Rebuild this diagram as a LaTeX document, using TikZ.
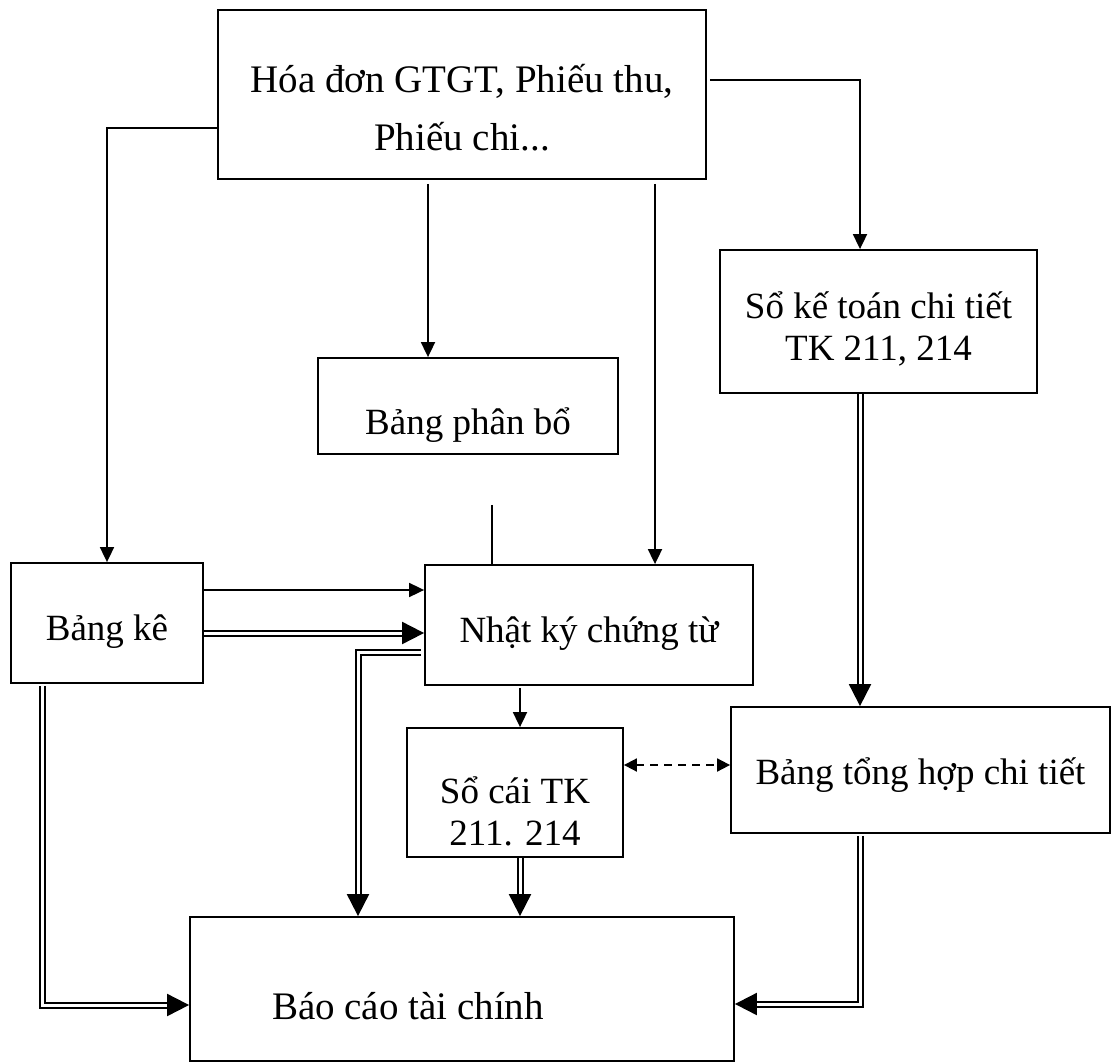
\documentclass[tikz,border=0pt]{standalone}
\usepackage{fontspec}
\setmainfont{Liberation Serif}
\usetikzlibrary{arrows.meta,calc}

\tikzset{
  box/.style={draw, line width=0.9pt, inner sep=0pt},
  lbl/.style={align=center, inner sep=0pt, font=\fontsize{18.5}{21}\selectfont},
  biglbl/.style={lbl, font=\fontsize{19.5}{22}\selectfont},
  sarr/.style={line width=0.9pt, -{Triangle[length=7.5pt,width=7pt]}},
  darr/.style={double, double distance=1.5pt, line width=1pt, -{Triangle[length=11pt,width=11pt]}},
  dashboth/.style={line width=0.9pt, dash pattern=on 4pt off 3pt, {Triangle[length=6.5pt,width=6.5pt]}-{Triangle[length=6.5pt,width=6.5pt]}},
}

\begin{document}
\begin{tikzpicture}[x=0.5pt, y=-0.5pt]
\useasboundingbox (0,0) rectangle (1112,1063);

% Boxes
\node[box, minimum width=244pt, minimum height=84.5pt] (hoadon) at (462,94.5) {};
\node[box, minimum width=158.5pt, minimum height=71.5pt] (chitiet) at (878.5,321.5) {};
\node[box, minimum width=150pt, minimum height=48pt] (phanbo) at (468,406) {};
\node[box, minimum width=96pt, minimum height=60pt] (bangke) at (107,623) {};
\node[box, minimum width=164pt, minimum height=60pt] (nhatky) at (589,625) {};
\node[box, minimum width=108pt, minimum height=64.5pt] (socai) at (515,792.5) {};
\node[box, minimum width=189.5pt, minimum height=63pt] (tonghop) at (920.5,770) {};
\node[box, minimum width=272pt, minimum height=72pt] (baocao) at (462,989) {};

% Texts
\node[biglbl] (hoadon-t) at (462,108) {Hóa đơn GTGT, Phiếu thu,\\[7pt] Phiếu chi...};
\node[lbl] (chitiet-t) at (878.5,329) {Sổ kế toán chi tiết\\ TK 211, 214};
\node[lbl, anchor=base] (phanbo-t) at (468,435) {Bảng phân bổ};
\node[lbl, anchor=base] (bangke-t) at (107,640) {Bảng kê};
\node[lbl, anchor=base] (nhatky-t) at (589,642) {Nhật ký chứng từ};
\node[lbl] (socai-t) at (515,811) {Sổ cái TK\\ 211. 214};
\node[lbl, anchor=base] (tonghop-t) at (920.5,784) {Bảng tổng hợp chi tiết};
\node[biglbl, anchor=base] (baocao-t) at (408,1019) {Báo cáo tài chính};

% Arrows
\draw[sarr] ($(hoadon.west)+(0,33.5)$) -| (bangke.north);
\draw[sarr] ($(hoadon.east)+(3,-14.5)$) -| ($(chitiet.north)+(-18.5,0)$);
\draw[sarr] ($(hoadon.south)+(-34,4)$) -- ($(phanbo.north)+(-40,0)$);
\draw[sarr] ($(hoadon.south)+(193,4)$) -- ($(nhatky.north)+(66,0)$);
\coordinate (stub) at ($(phanbo.south)+(24,50)$);
\draw[line width=0.9pt] (stub) -- (stub |- nhatky.north);

\coordinate (bk1) at ($(bangke.east)+(0,-33)$);
\coordinate (bk2) at ($(bangke.east)+(0,10)$);
\draw[sarr] (bk1) -- (bk1 -| nhatky.west);
\draw[darr] (bk2) -- (bk2 -| nhatky.west);
\draw[darr] ($(nhatky.west)+(-3,27)$) -| ($(baocao.north)+(-104,0)$);
\draw[darr] ($(bangke.south)+(-65,2)$) |- ($(baocao.west)+(0,16)$);

\draw[sarr] ($(nhatky.south)+(-69,2)$) -- ($(socai.north)+(5,0)$);
\coordinate (sc1) at ($(socai.east)+(0,-27.5)$);
\draw[dashboth] (sc1) -- (sc1 -| tonghop.west);

\coordinate (ct1) at ($(chitiet.south)+(-18.5,0)$);
\draw[darr] (ct1) -- (ct1 |- tonghop.north);
\coordinate (sc2) at ($(socai.south)+(5,0)$);
\draw[darr] (sc2) -- (sc2 |- baocao.north);
\draw[darr] ($(tonghop.south)+(-60.5,2)$) |- ($(baocao.east)+(0,15)$);

\end{tikzpicture}
\end{document}
